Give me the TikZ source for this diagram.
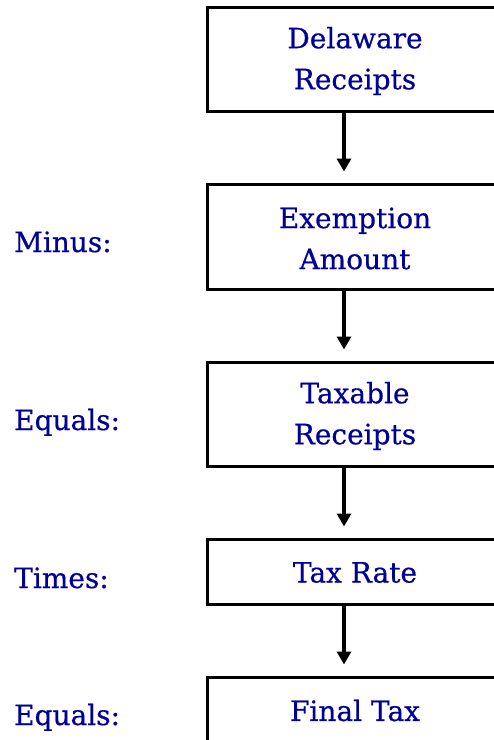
\documentclass[tikz,border=0pt]{standalone}
\usepackage{fontspec}
\setmainfont{DejaVu Serif}[FakeBold=0.6]
\usetikzlibrary{arrows.meta}
\definecolor{txtblue}{RGB}{0,0,153}
\tikzset{
  flowbox/.style={draw=black, line width=3pt, rectangle, minimum width=296pt,
    inner sep=0pt, align=center, text=txtblue, font=\fontsize{28}{41}\selectfont},
  boxtext/.style={inner sep=0pt, align=center, text=txtblue, font=\fontsize{28}{41}\selectfont},
  oplabel/.style={anchor=base west, inner sep=0pt, text=txtblue, font=\fontsize{28}{41}\selectfont},
  flowarrow/.style={line width=4.5pt, -{Triangle[width=14pt,length=13pt]}, shorten >=11pt}
}
\begin{document}
\begin{tikzpicture}[x=1pt,y=-1pt]
\clip (0,0) rectangle (494,740);
\node[flowbox, minimum height=104pt] (b1) at (355,59) {};
\node[flowbox, minimum height=105pt] (b2) at (355,236.5) {};
\node[flowbox, minimum height=104pt] (b3) at (355,414) {};
\node[flowbox, minimum height=65pt] (b4) at (355,571.5) {};
\node[flowbox, minimum height=65pt] (b5) at (355,709.5) {};
\node[boxtext] (t1) at ([yshift=-2pt]b1.center) {Delaware\\Receipts};
\node[boxtext] (t2) at ([yshift=-2pt]b2.center) {Exemption\\Amount};
\node[boxtext] (t3) at ([yshift=-2pt]b3.center) {Taxable\\Receipts};
\node[boxtext] (t4) at ([yshift=-1pt]b4.center) {Tax Rate};
\node[boxtext] (t5) at ([yshift=-1pt]b5.center) {Final Tax};
\coordinate (ax) at (344,0);
\draw[flowarrow] (b1.south -| ax) -- (b2.north -| ax);
\draw[flowarrow] (b2.south -| ax) -- (b3.north -| ax);
\draw[flowarrow] (b3.south -| ax) -- (b4.north -| ax);
\draw[flowarrow] (b4.south -| ax) -- (b5.north -| ax);
\node[oplabel] (l2) at (14,252) {Minus:};
\node[oplabel] (l3) at (14,430) {Equals:};
\node[oplabel] (l4) at (14,588) {Times:};
\node[oplabel] (l5) at (14,725) {Equals:};
\end{tikzpicture}
\end{document}
